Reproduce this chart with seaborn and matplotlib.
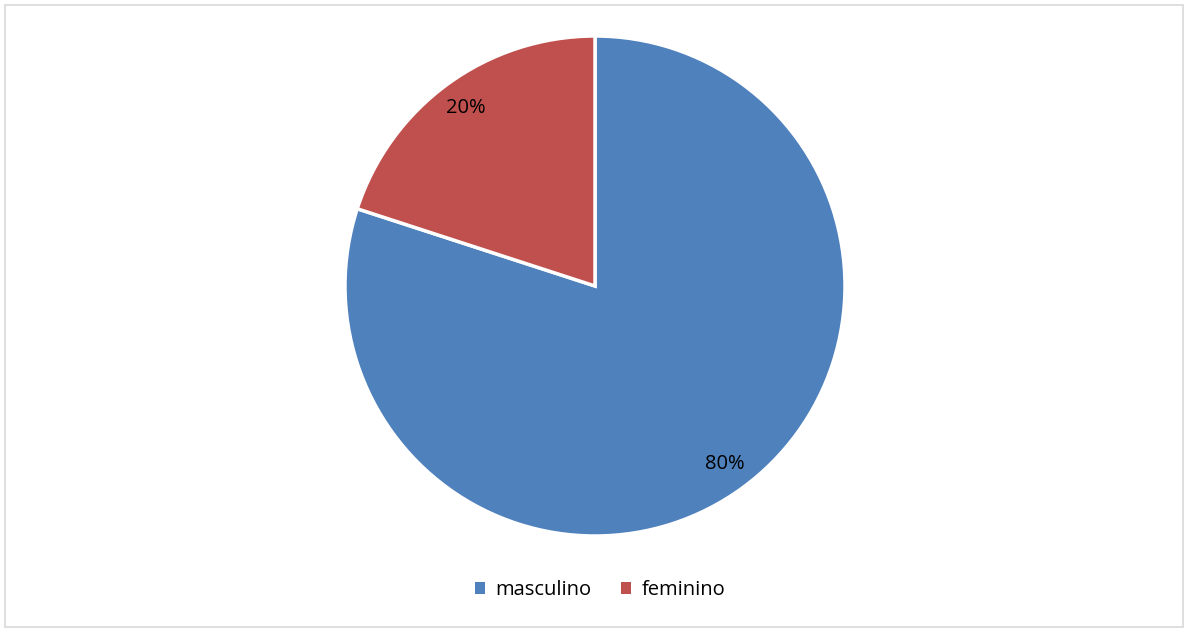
import matplotlib
matplotlib.use("Agg")
import matplotlib.pyplot as plt
from matplotlib.patches import Rectangle, Patch
import seaborn as sns

categories = ["masculino", "feminino"]
values = [80, 20]
colors = ["#4F81BD", "#C0504D"]

sns.set_theme(style="white")
plt.rcParams["font.family"] = ["Open Sans", "DejaVu Sans"]

W, H = 1184, 628
fig = plt.figure(figsize=(W / 100, H / 100), dpi=100)
fig.patch.set_facecolor("white")

# chart frame
fig.patches.append(Rectangle((5 / W, 1 / H), 1178 / W, 622 / H, transform=fig.transFigure,
                             fill=False, edgecolor="#D9D9D9", linewidth=1.2))

cx, cy, r = 595, 286, 250
ax = fig.add_axes([(cx - r) / W, (H - cy - r) / H, 2 * r / W, 2 * r / H])
wedges, texts, autotexts = ax.pie(
    values, colors=colors, startangle=90, counterclock=False,
    autopct="%d%%", pctdistance=0.88,
    wedgeprops=dict(edgecolor="white", linewidth=2.5),
    textprops=dict(fontsize=14.5, color="black"),
)
ax.set_xlim(-1, 1)
ax.set_ylim(-1, 1)
ax.set_aspect("equal")
ax.axis("off")

handles = [Patch(facecolor=c, edgecolor="none") for c in colors]
leg = fig.legend(handles, categories, loc="center", bbox_to_anchor=(600 / W, 1 - 590 / H),
                 ncol=2, frameon=False, fontsize=14.5, handlelength=0.5, handleheight=0.5,
                 handletextpad=0.5, columnspacing=1.5)
for t in leg.get_texts():
    t.set_color("black")

fig.savefig("out.png", dpi=100, facecolor="white")
